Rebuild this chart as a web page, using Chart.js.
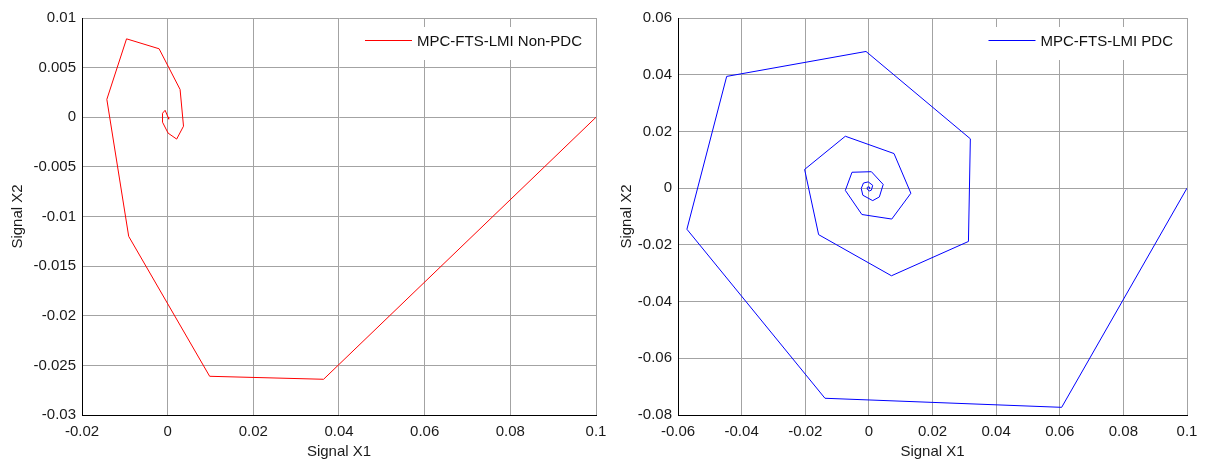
<!DOCTYPE html>
<html>
<head>
<meta charset="utf-8">
<script src="https://cdn.jsdelivr.net/npm/chart.js@4.4.1/dist/chart.umd.min.js"></script>
<style>
  html, body { margin: 0; padding: 0; background: #fff; }
  body { width: 1208px; height: 464px; position: relative; overflow: hidden; }
  .plot { position: absolute; top: 0; }
</style>
</head>
<body>
<div class="plot" style="left:0px"><canvas id="leftChart" width="620" height="464"></canvas></div>
<div class="plot" style="left:604px"><canvas id="rightChart" width="604" height="464"></canvas></div>
<script>
  /* STATE TRAJECTORIES (X1, X2) */

  const nonPdcX1 = [0.1, 0.0364, 0.0098, -0.0091, -0.0142, -0.0096, -0.0020, 0.0029, 0.0037, 0.0021,
    0.0001, -0.0012, -0.0012, -0.0006, 0.0001, 0.0003, 0.0002, 0.0];
  const nonPdcX2 = [0.0, -0.0264, -0.0261, -0.0120, 0.0018, 0.0079, 0.0069, 0.0028, -0.0009, -0.0022,
    -0.0016, -0.0005, 0.0004, 0.0007, 0.0000, -0.0002, -0.0001, 0.0];

  const pdcX1 = [0.1, 0.0606, -0.0138, -0.0572, -0.0447, -0.0009, 0.0319, 0.0313, 0.0071, -0.0158,
    -0.0202, -0.0074, 0.0079, 0.0132, 0.0072, -0.0022, -0.0074, -0.0053, 0.0008, 0.0045,
    0.0033, 0.0012, -0.0019, -0.0024, -0.0017, -0.0002, 0.0012, 0.0008, 0.0001, -0.0005,
    -0.0005, 0.0000, 0.0003, 0.0002, 0.0];
  const pdcX2 = [0.0, -0.0773, -0.0741, -0.0145, 0.0394, 0.0482, 0.0174, -0.0188, -0.0309, -0.0164,
    0.0066, 0.0183, 0.0122, -0.0018, -0.0109, -0.0093, -0.0008, 0.0056, 0.0058, 0.0013,
    -0.0031, -0.0044, -0.0025, -0.0001, 0.0018, 0.0022, 0.0010, -0.0007, -0.0010, -0.0004,
    0.0003, 0.0005, 0.0002, -0.0001, 0.0];

  /* AXIS TICKS */

  const leftXTicks = [-0.02, 0, 0.02, 0.04, 0.06, 0.08, 0.1];
  const leftXLabels = ['-0.02', '0', '0.02', '0.04', '0.06', '0.08', '0.1'];
  const leftYTicks = [-0.03, -0.025, -0.02, -0.015, -0.01, -0.005, 0, 0.005, 0.01];
  const leftYLabels = ['-0.03', '-0.025', '-0.02', '-0.015', '-0.01', '-0.005', '0', '0.005', '0.01'];

  const rightXTicks = [-0.06, -0.04, -0.02, 0, 0.02, 0.04, 0.06, 0.08, 0.1];
  const rightXLabels = ['-0.06', '-0.04', '-0.02', '0', '0.02', '0.04', '0.06', '0.08', '0.1'];
  const rightYTicks = [-0.08, -0.06, -0.04, -0.02, 0, 0.02, 0.04, 0.06];
  const rightYLabels = ['-0.08', '-0.06', '-0.04', '-0.02', '0', '0.02', '0.04', '0.06'];

  const FONT = { family: "'Liberation Sans', Arial, sans-serif", size: 15 };
  const GRID = '#a3a3a3';

  /* LEGEND DRAWN INSIDE THE PLOT BOX */

  const insideLegend = {
    id: 'insideLegend',
    afterDatasetsDraw(chart, args, opts) {
      const ctx = chart.ctx;
      const area = chart.chartArea;
      ctx.save();
      ctx.font = FONT.size + 'px ' + FONT.family;
      const w = ctx.measureText(opts.text).width;
      const textX = area.right - 14 - w;
      const midY = area.top + 23;
      const lineEnd = textX - 5;
      const lineStart = lineEnd - 47;
      ctx.fillStyle = '#fff';
      ctx.fillRect(lineStart - 8, area.top + 9, area.right - 5 - (lineStart - 8), 33);
      ctx.strokeStyle = opts.color;
      ctx.lineWidth = 1;
      ctx.beginPath();
      ctx.moveTo(lineStart, Math.round(midY) - 0.5);
      ctx.lineTo(lineEnd, Math.round(midY) - 0.5);
      ctx.stroke();
      ctx.fillStyle = '#111';
      ctx.textBaseline = 'middle';
      ctx.fillText(opts.text, textX, midY + 1);
      ctx.restore();
    }
  };

  function toPoints(xs, ys) {
    return xs.map((x, i) => ({ x: x, y: ys[i] }));
  }

  function axis(min, max, ticks, labels, title, titlePad, fitSize, horizontal) {
    return {
      type: 'linear',
      min: min,
      max: max,
      afterBuildTicks: (scale) => {
        scale.ticks = ticks.map(v => ({ value: v }));
      },
      afterFit: (scale) => {
        if (horizontal) {
          scale.height = fitSize;
        } else {
          scale.width = fitSize;
        }
      },
      ticks: {
        color: '#1a1a1a',
        font: FONT,
        padding: horizontal ? 8 : 6,
        maxRotation: 0,
        autoSkip: false,
        callback: (value, index) => labels[index]
      },
      grid: { color: GRID, lineWidth: 1, drawTicks: false },
      border: { display: true, color: '#000', width: 1 },
      title: {
        display: true,
        text: title,
        color: '#1a1a1a',
        font: FONT,
        padding: horizontal ? { top: 0, bottom: titlePad } : { top: titlePad, bottom: 0 }
      }
    };
  }

  /* FUNCTION TO CREATE CHART */

  function initChart(canvas, points, color, name, xAxis, yAxis, padding) {
    return new Chart(canvas, {
      type: 'scatter',
      data: {
        datasets: [{
          label: name,
          data: points,
          showLine: true,
          borderColor: color,
          borderWidth: 1,
          pointRadius: 0,
          tension: 0
        }]
      },
      options: {
        responsive: false,
        animation: false,
        devicePixelRatio: 1,
        layout: { padding: padding },
        scales: { x: xAxis, y: yAxis },
        plugins: {
          legend: { display: false },
          tooltip: { enabled: false },
          insideLegend: { text: name, color: color }
        }
      },
      plugins: [insideLegend]
    });
  }

  initChart(
    document.querySelector('#leftChart'),
    toPoints(nonPdcX1, nonPdcX2),
    '#ff0000',
    'MPC-FTS-LMI Non-PDC',
    axis(-0.02, 0.1, leftXTicks, leftXLabels, 'Signal X1', 3, 49, true),
    axis(-0.03, 0.01, leftYTicks, leftYLabels, 'Signal X2', 9, 82, false),
    { top: 18, right: 24, bottom: 0, left: 0 }
  );

  initChart(
    document.querySelector('#rightChart'),
    toPoints(pdcX1, pdcX2),
    '#0000ff',
    'MPC-FTS-LMI PDC',
    axis(-0.06, 0.1, rightXTicks, rightXLabels, 'Signal X1', 3, 49, true),
    axis(-0.08, 0.06, rightYTicks, rightYLabels, 'Signal X2', 14, 74, false),
    { top: 18, right: 21, bottom: 0, left: 0 }
  );
</script>
</body>
</html>
